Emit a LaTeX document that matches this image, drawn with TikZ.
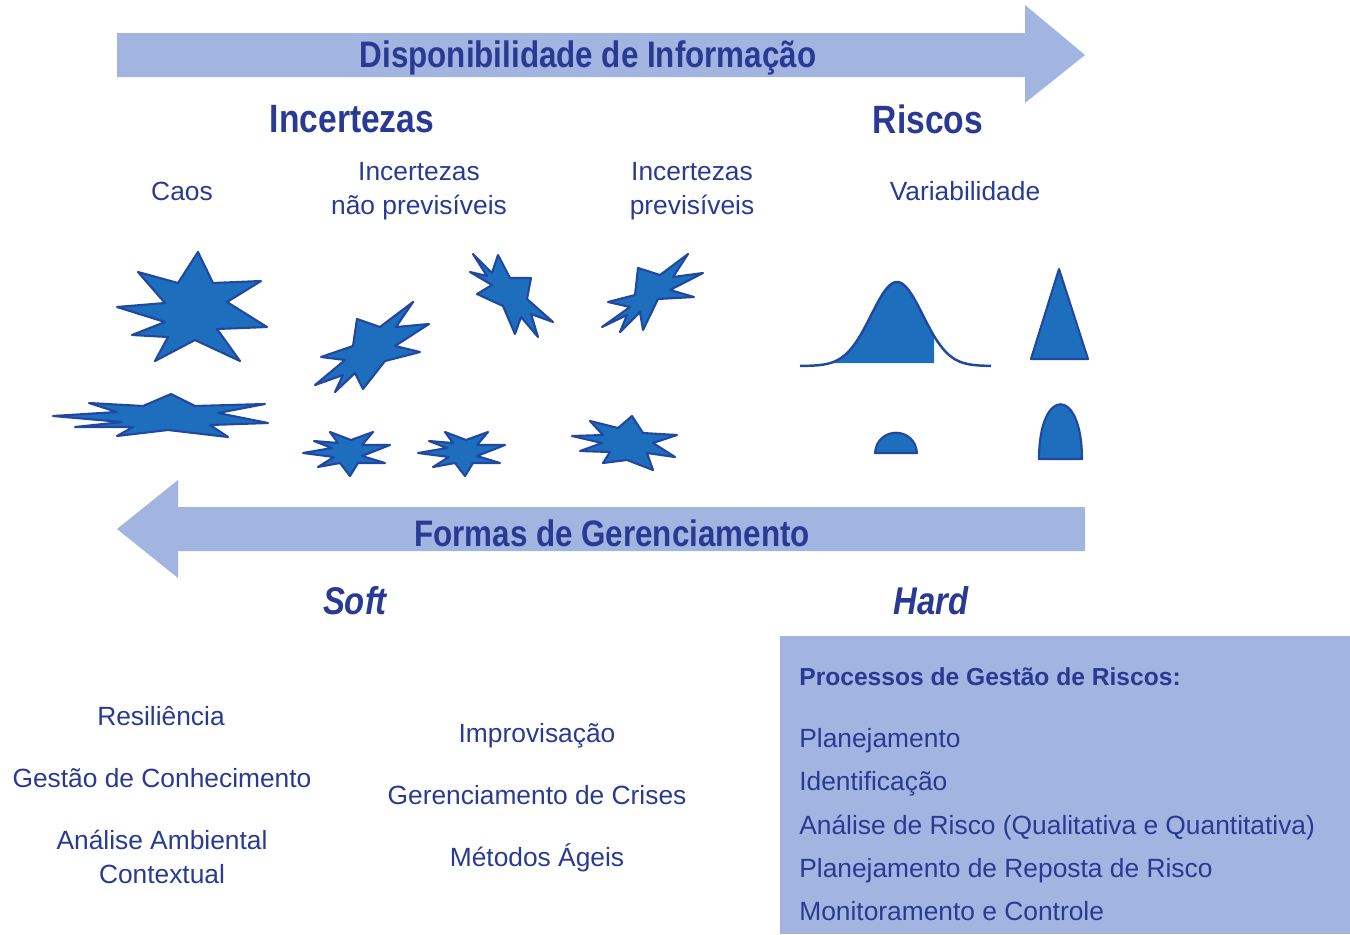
\documentclass[tikz,border=0pt]{standalone}
\usepackage{fontspec}
\setmainfont{Liberation Sans}
\newfontfamily\headfont{Liberation Sans}[FakeStretch=0.85]
\definecolor{barblue}{RGB}{162,181,224}
\definecolor{inkblue}{RGB}{40,58,148}
\definecolor{starblue}{RGB}{30,110,190}
\definecolor{edgeblue}{RGB}{32,72,160}
\begin{document}
\begin{tikzpicture}[x=0.02cm,y=-0.02cm,
  every node/.style = {text=inkblue, inner sep=0pt,
    font=\fontsize{15}{19.3}\selectfont},
  heading/.style = {font=\headfont\bfseries\fontsize{21}{24}\selectfont},
  bighead/.style = {font=\headfont\bfseries\fontsize{22.5}{26}\selectfont},
  slanthead/.style = {font=\headfont\bfseries\itshape\fontsize{22}{26}\selectfont},
  twoline/.style = {align=center},
  word/.style    = {anchor=base},
  item/.style    = {anchor=base west},
  band/.style    = {fill=barblue},
  blob/.style    = {fill=starblue, draw=edgeblue, line width=1.2pt,
    line join=round}]
\useasboundingbox (0,0) rectangle (1350,934);
% the two wide arrows
\fill[band] (117,33) -- (1025,33) -- (1025,5) -- (1085,55)
  -- (1025,103) -- (1025,77) -- (117,77) -- cycle;
\fill[band] (1085,507) -- (178,507) -- (178,480) -- (117,529)
  -- (178,578) -- (178,551) -- (1085,551) -- cycle;
% box on the right
\fill[band] (780,636) rectangle (1350,934);

\node[heading] (info) at (588,58) {Disponibilidade de Informação};
\node[bighead] (incert) at (352,119) {Incertezas};
\node[bighead] (riscos) at (928,119) {Riscos};
\node[word] (caos) at (182,200.5) {Caos};
\node[twoline] (naoprev) at (419,191) {Incertezas\\não previsíveis};
\node[twoline] (prev) at (692,191) {Incertezas\\previsíveis};
\node[word] (variab) at (965,200.5) {Variabilidade};

% chaos
\filldraw[blob] (198,252) -- (213,283) -- (261,281) -- (227,302)
  -- (267,327) -- (217,329) -- (240,361) -- (195,340) -- (155,361)
  -- (168,337) -- (132,335) -- (165,322) -- (117,307) -- (165,303)
  -- (138,272) -- (178,283) -- cycle;
\filldraw[blob] (171,394) -- (195,406) -- (265,404) -- (218,413)
  -- (268,423) -- (210,425) -- (228,437) -- (168,430) -- (117,436)
  -- (133,427) -- (75,427) -- (122,422) -- (53,416) -- (117,412)
  -- (89,403) -- (143,406) -- cycle;
% unforeseeable
\filldraw[blob] (357,319) -- (380,327) -- (413,302) -- (396,327)
  -- (429,324) -- (395,346) -- (420,352) -- (385,361) -- (363,389)
  -- (355,373) -- (335,392) -- (343,375) -- (315,385) -- (345,360)
  -- (321,357) -- (353,346) -- cycle;
\filldraw[blob] (473,254) -- (492,273) -- (498,255) -- (510,278)
  -- (531,278) -- (527,299) -- (553,322) -- (531,314) -- (538,337)
  -- (521,317) -- (515,334) -- (503,306) -- (477,294) -- (492,285)
  -- (470,272) -- (487,276) -- cycle;
\foreach \cx in {348,463}
  \filldraw[blob, shift={(\cx,453)}] (-18,-21) -- (3,-13) -- (25,-21)
    -- (14,-8) -- (42,-8) -- (14,3) -- (37,10) -- (10,10) -- (2,23)
    -- (-8,10) -- (-30,14) -- (-14,4) -- (-45,0) -- (-16,-5)
    -- (-34,-12) -- (-10,-10) -- cycle;
% foreseeable
\filldraw[blob] (638,268) -- (660,275) -- (688,254) -- (673,277)
  -- (703,273) -- (670,290) -- (694,297) -- (658,299) -- (643,330)
  -- (640,312) -- (620,332) -- (627,315) -- (602,327) -- (630,307)
  -- (608,302) -- (635,295) -- cycle;
\filldraw[blob] (632,416) -- (643,433) -- (677,435) -- (653,443)
  -- (675,457) -- (647,453) -- (653,470) -- (627,460) -- (603,463)
  -- (610,452) -- (580,451) -- (602,443) -- (572,436) -- (603,435)
  -- (590,421) -- (618,428) -- cycle;

% variability
\fill[starblue] plot[domain=830:934, samples=50]
  (\x,{366-84*exp(0-((\x-897)/36.5)^2)}) -- (934,363) -- (830,363) -- cycle;
\draw[edgeblue, line width=1.4pt] plot[domain=800:991, samples=80]
  (\x,{366-84*exp(0-((\x-897)/36.5)^2)});
\filldraw[blob] (1059,269) -- (1088,359) -- (1031,359) -- cycle;
\filldraw[blob] (875,453) .. controls (877,426) and (915,426) .. (917,453) -- cycle;
\filldraw[blob] (1039,459) .. controls (1039,386) and (1082,386) .. (1082,459) -- cycle;

\node[heading] (formas) at (612,533) {Formas de Gerenciamento};
\node[slanthead] (soft) at (355,601) {Soft};
\node[slanthead] (hard) at (931,601) {Hard};

% soft approaches
\node[word] (resil) at (161,725.5) {Resiliência};
\node[word] (conhec) at (162,787.5) {Gestão de Conhecimento};
\node[twoline] (ambient) at (162,857) {Análise Ambiental\\Contextual};
\node[word] (improv) at (537,742.5) {Improvisação};
\node[word] (crises) at (537,804.5) {Gerenciamento de Crises};
\node[word] (ageis) at (537,866.5) {Métodos Ágeis};

% hard approaches
\node[item, font=\bfseries\fontsize{14}{17}\selectfont] (proc) at (799,685)
  {Processos de Gestão de Riscos:};
\node[item] (plan) at (799,747.5) {Planejamento};
\node[item] (ident) at (799,790.5) {Identificação};
\node[item] (anal) at (799,834.5) {Análise de Risco (Qualitativa e Quantitativa)};
\node[item] (resp) at (799,877.5) {Planejamento de Reposta de Risco};
\node[item] (monit) at (799,920.5) {Monitoramento e Controle};
\end{tikzpicture}
\end{document}
